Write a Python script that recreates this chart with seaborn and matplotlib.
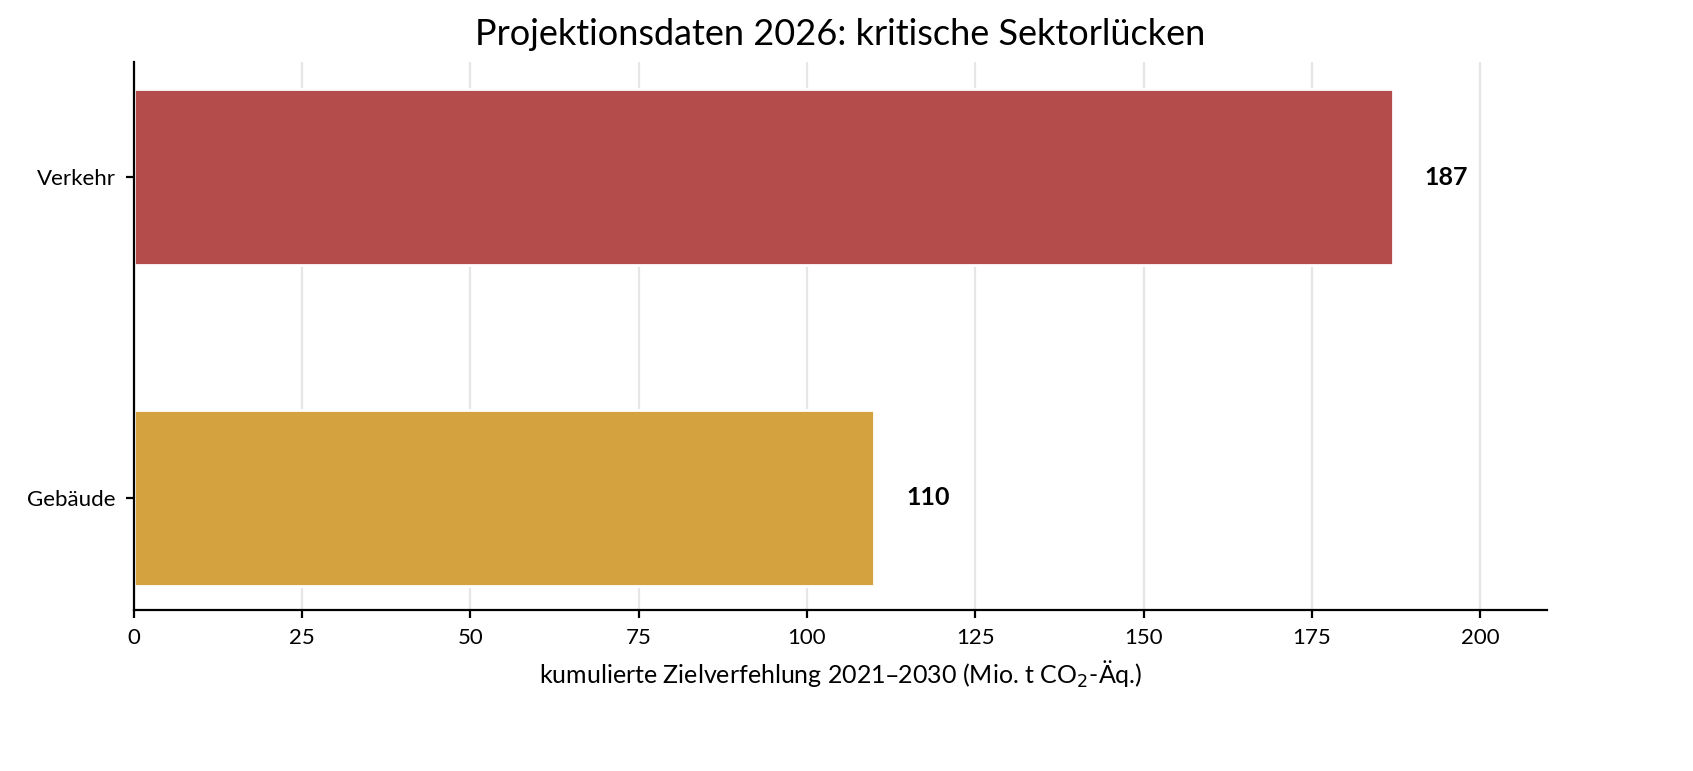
import matplotlib
matplotlib.use("Agg")
import matplotlib.pyplot as plt
import seaborn as sns
import pandas as pd

sectors = ["Verkehr", "Gebäude"]
values = [187, 110]
colors = ["#B54C4C", "#D4A23E"]

sns.set_style("white")
plt.rcParams['font.family'] = ['Lato', 'DejaVu Sans']
plt.rcParams['text.color'] = 'black'
plt.rcParams['axes.labelcolor'] = 'black'
plt.rcParams['xtick.color'] = 'black'
plt.rcParams['ytick.color'] = 'black'

df = pd.DataFrame({"Sektor": sectors, "Wert": values})
fig, ax = plt.subplots(figsize=(8.465, 3.855), dpi=200)
fig.subplots_adjust(left=0.079, right=0.914, top=0.92, bottom=0.209)
sns.barplot(data=df, x="Wert", y="Sektor", hue="Sektor", palette=colors,
            width=0.55, legend=False, ax=ax, zorder=2, saturation=1)
ax.set_xlim(0, 210)
ax.set_ylim(1.35, -0.36)
ax.set_xticks(range(0, 201, 25))
ax.grid(axis="x", color="#e6e6e6", lw=0.8, zorder=0)
ax.set_axisbelow(True)
for i, v in enumerate(values):
    ax.text(v + 8, i, f"{v}", va="center", ha="center", fontsize=9, fontweight="bold")
ax.set_ylabel("")
ax.set_xlabel("kumulierte Zielverfehlung 2021–2030 (Mio. t CO$_2$-Äq.)", fontsize=9)
ax.set_title("Projektionsdaten 2026: kritische Sektorlücken", fontsize=13)
ax.tick_params(axis="both", labelsize=8, length=3, left=True, bottom=True)
for s in ["top", "right"]:
    ax.spines[s].set_visible(False)
for s in ["left", "bottom"]:
    ax.spines[s].set_color("black"); ax.spines[s].set_linewidth(0.8)
fig.savefig("out.png", dpi=200)
